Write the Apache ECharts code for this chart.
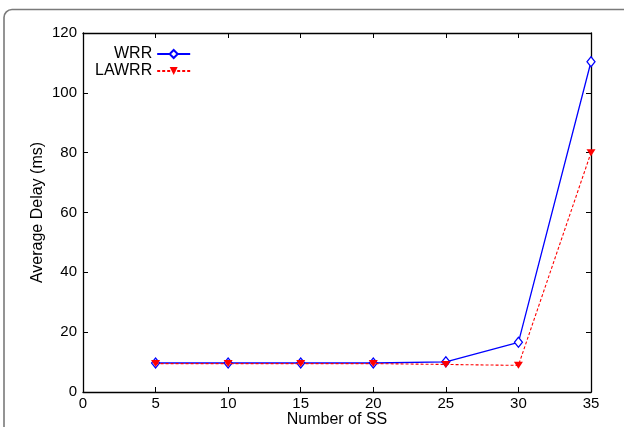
<!DOCTYPE html>
<html>
<head>
<meta charset="utf-8">
<script src="https://cdn.jsdelivr.net/npm/echarts@6/dist/echarts.min.js"></script>
<style>
  html, body { margin: 0; padding: 0; background: #fff; }
  #chart { width: 624px; height: 427px; }
</style>
</head>
<body>
<div id="chart"></div>
<script>
// Number of subscriber stations
const numSS = [5, 10, 15, 20, 25, 30, 35];
// Average delay (ms) for each scheduler
const wrrDelay = [9.7, 9.7, 9.7, 9.7, 10.1, 16.6, 110.4];
const lawrrDelay = [9.5, 9.5, 9.5, 9.5, 9.2, 8.9, 80];

const xTicks = { min: 0, max: 35, interval: 5 };
const yTicks = { min: 0, max: 120, interval: 20 };

const font = 'Liberation Sans, Arial, Helvetica, sans-serif';

const pairs = (xs, ys) => xs.map((x, i) => [x, ys[i]]);

const chart = echarts.init(document.getElementById('chart'), null, { renderer: 'canvas' });

const axisCommon = {
  axisLine: { show: true, onZero: false, lineStyle: { color: '#000', width: 1.3 } },
  axisTick: { show: true, inside: true, length: 5, lineStyle: { color: '#000', width: 1 } },
  splitLine: { show: false }
};

chart.setOption({
  animation: false,
  backgroundColor: '#fff',
  graphic: [{
    type: 'rect',
    shape: { x: 4, y: 9.5, width: 700, height: 500, r: 8 },
    style: { fill: 'none', stroke: '#7a7a7a', lineWidth: 1.6 },
    silent: true,
    z: -1
  }],
  grid: { left: 83, right: 33, top: 33, bottom: 35, outerBoundsMode: 'none', containLabel: false },
  legend: {
    left: 95,
    top: 46,
    padding: 0,
    orient: 'vertical',
    align: 'right',
    itemWidth: 33,
    itemHeight: 10,
    itemGap: 1,
    textStyle: { fontFamily: font, fontSize: 16, color: '#000' },
    data: ['WRR', 'LAWRR']
  },
  xAxis: [
    Object.assign({
      type: 'value', position: 'bottom',
      min: xTicks.min, max: xTicks.max, interval: xTicks.interval,
      name: 'Number of SS', nameLocation: 'middle', nameGap: 20, nameMoveOverlap: false,
      nameTextStyle: { fontFamily: font, fontSize: 16, color: '#000' },
      axisLabel: { fontFamily: font, fontSize: 15, color: '#000', margin: 4 }
    }, axisCommon),
    Object.assign({
      type: 'value', position: 'top',
      min: xTicks.min, max: xTicks.max, interval: xTicks.interval,
      axisLabel: { show: false }
    }, axisCommon)
  ],
  yAxis: [
    Object.assign({
      type: 'value', position: 'left',
      min: yTicks.min, max: yTicks.max, interval: yTicks.interval,
      name: 'Average Delay (ms)', nameLocation: 'middle', nameGap: 37, nameMoveOverlap: false,
      nameTextStyle: { fontFamily: font, fontSize: 16, color: '#000' },
      axisLabel: { fontFamily: font, fontSize: 15, color: '#000', margin: 6 }
    }, axisCommon),
    Object.assign({
      type: 'value', position: 'right',
      min: yTicks.min, max: yTicks.max, interval: yTicks.interval,
      axisLabel: { show: false }
    }, axisCommon)
  ],
  series: [
    {
      name: 'WRR',
      type: 'line',
      data: pairs(numSS, wrrDelay),
      symbol: 'diamond',
      symbolSize: [8, 10],
      color: '#0000ff',
      lineStyle: { color: '#0000ff', width: 1.3 },
      itemStyle: { color: '#ffffff', borderColor: '#0000ff', borderWidth: 1.3 },
      z: 2
    },
    {
      name: 'LAWRR',
      type: 'line',
      data: pairs(numSS, lawrrDelay),
      symbol: 'triangle',
      symbolRotate: 180,
      symbolSize: [9, 7],
      color: '#ff0000',
      lineStyle: { color: '#ff0000', width: 1.1, type: [3, 2] },
      itemStyle: { color: '#ff0000' },
      z: 3
    }
  ]
});
</script>
</body>
</html>
